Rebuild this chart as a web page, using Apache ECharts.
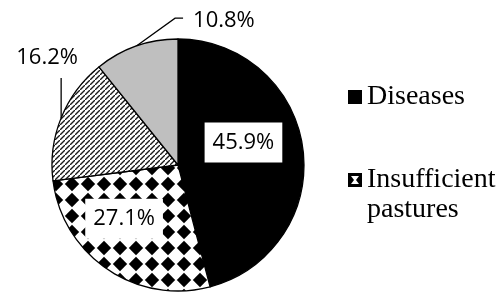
<!DOCTYPE html>
<html><head><meta charset="utf-8">
<script src="https://cdn.jsdelivr.net/npm/echarts@6/dist/echarts.min.js"></script>
<style>html,body{margin:0;padding:0;background:#fff}#c{width:502px;height:295px}</style>
</head><body><div id="c"></div>
<script>
const categories = ['Diseases', 'Insufficient pastures', 'Category 3', 'Category 4'];
const values = [45.9, 27.1, 16.2, 10.8];
const legendItems = ['Diseases', 'Insufficient pastures'];

const CX = 178, CY = 165, R = 126;

function diamondPattern() {
  const s = 16, c = document.createElement('canvas');
  c.width = s; c.height = s;
  const g = c.getContext('2d');
  g.fillStyle = '#fff'; g.fillRect(0, 0, s, s);
  g.fillStyle = '#000';
  g.beginPath();
  g.moveTo(8, 0.8); g.lineTo(15.2, 8); g.lineTo(8, 15.2); g.lineTo(0.8, 8);
  g.closePath(); g.fill();
  return c;
}
function hatchPattern() {
  const s = 5, c = document.createElement('canvas');
  c.width = s; c.height = s;
  const g = c.getContext('2d');
  g.fillStyle = '#fff'; g.fillRect(0, 0, s, s);
  g.strokeStyle = '#1a1a1a'; g.lineWidth = 1.4;
  g.beginPath();
  g.moveTo(-1, s + 1); g.lineTo(s + 1, -1);
  g.moveTo(-s - 1, 1); g.lineTo(1, -s - 1);
  g.moveTo(s - 1, 2 * s + 1); g.lineTo(2 * s + 1, s - 1);
  g.stroke();
  return c;
}
function legendIcon() {
  const s = 14, c = document.createElement('canvas');
  c.width = s; c.height = s;
  const g = c.getContext('2d');
  g.fillStyle = '#000'; g.fillRect(0, 0, s, s);
  g.fillStyle = '#fff';
  g.beginPath();
  g.moveTo(3, 3); g.lineTo(11, 3); g.lineTo(8, 7); g.lineTo(11, 11); g.lineTo(3, 11); g.lineTo(6, 7);
  g.closePath(); g.fill();
  return c.toDataURL();
}

const fills = [
  '#000000',
  { image: diamondPattern(), repeat: 'repeat' },
  { image: hatchPattern(), repeat: 'repeat' },
  '#bfbfbf'
];

const total = values.reduce((a, b) => a + b, 0);
function edgePoint(i) {
  let cum = 0;
  for (let k = 0; k < i; k++) cum += values[k];
  const mid = (cum + values[i] / 2) / total * 2 * Math.PI;
  return [CX + R * Math.sin(mid), CY - R * Math.cos(mid)];
}

const chart = echarts.init(document.getElementById('c'), null, { renderer: 'canvas' });
chart.setOption({
  animation: false,
  backgroundColor: '#fff',
  legend: {
    orient: 'vertical',
    left: 348,
    top: 82,
    padding: 0,
    itemWidth: 14,
    itemHeight: 14,
    itemGap: 23,
    selectedMode: false,
    formatter: n => n === 'Insufficient pastures' ? ' \nInsufficient\npastures' : n,
    textStyle: { fontFamily: 'Liberation Serif', fontSize: 28, color: '#000', lineHeight: 30 },
    data: [
      { name: legendItems[0], icon: 'rect', itemStyle: { color: '#000', borderWidth: 0 } },
      { name: legendItems[1], icon: 'image://' + legendIcon() }
    ]
  },
  series: [{
    type: 'pie',
    center: [CX, CY],
    radius: R,
    startAngle: 90,
    clockwise: true,
    avoidLabelOverlap: false,
    silent: true,
    itemStyle: { borderColor: '#000', borderWidth: 1.3 },
    label: {
      fontFamily: 'Open Sans', fontSize: 22, color: '#000',
      formatter: p => p.value.toFixed(1) + '%'
    },
    labelLine: { lineStyle: { color: '#000', width: 1.3 } },
    labelLayout: function (p) {
      const i = p.dataIndex;
      const e = edgePoint(i);
      if (i === 0) return { dx: 0, dy: -14 };
      if (i === 1) return { dx: -17, dy: -1 };
      if (i === 2) return { x: e[0] - 14, y: e[1] - 60, align: 'center', verticalAlign: 'middle',
        labelLinePoints: [[e[0], e[1]], [e[0], e[1] - 40], [e[0], e[1] - 40]] };
      return { x: e[0] + 57, y: e[1] - 25, align: 'left', verticalAlign: 'middle',
        labelLinePoints: [[e[0], e[1]], [e[0] + 39, e[1] - 28], [e[0] + 47, e[1] - 28]] };
    },
    data: values.map((v, i) => ({
      name: categories[i],
      value: v,
      itemStyle: { color: fills[i] },
      label: i < 2
        ? { position: 'inside', backgroundColor: '#fff', padding: [9, 8, 9, 8] }
        : { position: 'outside' },
      labelLine: { show: i >= 2 }
    }))
  }]
});
</script>
</body></html>
